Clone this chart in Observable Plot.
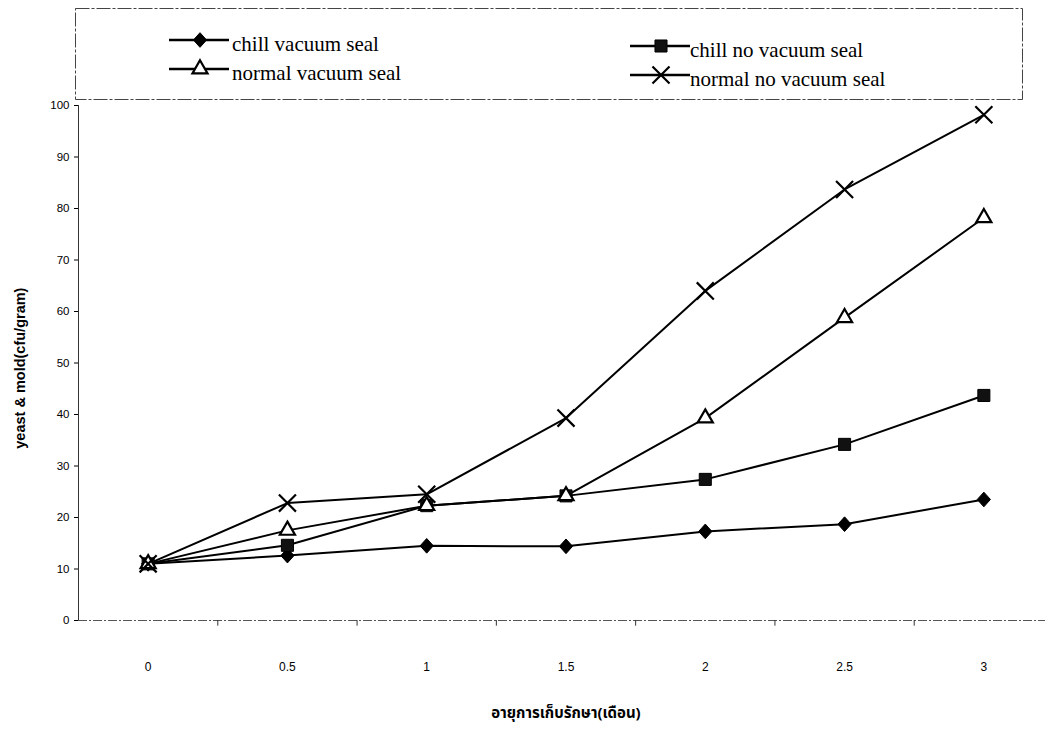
<!DOCTYPE html>
<html>
<head>
<meta charset="utf-8">
<script src="https://cdn.jsdelivr.net/npm/d3@7"></script>
<script src="https://cdn.jsdelivr.net/npm/@observablehq/plot@0.6"></script>
<style>
  html, body { margin: 0; padding: 0; background: #fff; }
  #wrap { position: relative; width: 1045px; height: 740px; overflow: hidden; }
  #legend { position: absolute; left: 0; top: 0; }
  #chart { position: absolute; left: 0; top: 0; }
</style>
</head>
<body>
<div id="wrap"><div id="chart"></div><svg id="legend" width="1045" height="110"></svg></div>
<script>
// ---- data ----
const months = [0, 0.5, 1, 1.5, 2, 2.5, 3];
const monthLabels = ["0", "0.5", "1", "1.5", "2", "2.5", "3"];
const seriesNames = ["chill vacuum seal", "chill no vacuum seal", "normal vacuum seal", "normal no vacuum seal"];
const chillVacuum = [11, 12.6, 14.5, 14.4, 17.3, 18.7, 23.5];
const chillNoVacuum = [11, 14.6, 22.3, 24.2, 27.4, 34.2, 43.7];
const normalVacuum = [11, 17.5, 22.3, 24.2, 39.3, 58.8, 78.2];
const normalNoVacuum = [11, 22.8, 24.5, 39.3, 64, 83.7, 98.2];
const yTicks = [0, 10, 20, 30, 40, 50, 60, 70, 80, 90, 100];
const xLabel = "อายุการเก็บรักษา(เดือน)";
const yLabel = "yeast & mold(cfu/gram)";

// wide rhombus symbol (like a spreadsheet diamond marker)
const rhombus = {
  draw(context, size) {
    const h = Math.sqrt(size / 1.7);
    const w = h * 0.9;
    context.moveTo(0, -h);
    context.lineTo(w, 0);
    context.lineTo(0, h);
    context.lineTo(-w, 0);
    context.closePath();
  }
};

const valuesBySeries = [chillVacuum, chillNoVacuum, normalVacuum, normalNoVacuum];
const styles = [
  {symbol: rhombus, r: 5.4, fill: "#000", stroke: "#000", strokeWidth: 1},
  {symbol: d3.symbolSquare, r: 6.8, fill: "#111", stroke: "#000", strokeWidth: 1},
  {symbol: d3.symbolTriangle, r: 5.6, fill: "#fff", stroke: "#000", strokeWidth: 2.2},
  {symbol: d3.symbolTimes, r: 7.8, fill: "none", stroke: "#000", strokeWidth: 2.2}
];
const rows = [];
valuesBySeries.forEach((vals, s) => vals.forEach((v, i) => rows.push({series: seriesNames[s], month: months[i], value: v})));
const boundaries = months.slice(0, -1).map(m => m + 0.25);

const marks = [
  Plot.ruleX([-0.25], {y1: 0, y2: 100, stroke: "#333", strokeWidth: 1}),
  Plot.ruleY([0], {x1: -0.25, x2: 3.25, stroke: "#555", strokeWidth: 1, strokeDasharray: "9,2,2,2"}),
  Plot.ruleX(boundaries, {y1: 0, y2: -1.1, stroke: "#333", strokeWidth: 1}),
  Plot.axisY({ticks: yTicks, tickSize: 4, tickPadding: 5, label: null, fontSize: 11.5,
    fontFamily: "Liberation Sans, Arial, sans-serif"}),
  Plot.axisX({ticks: months, tickFormat: d => monthLabels[months.indexOf(d)], tickSize: 0, tickPadding: 42,
    label: null, fontSize: 12, fontFamily: "Liberation Sans Narrow, Arial Narrow, Liberation Sans, sans-serif"}),
  Plot.text([xLabel], {frameAnchor: "bottom", dy: 97, x: 1.5, text: d => d, fontSize: 15, fontWeight: "bold",
    fontFamily: "Noto Sans Thai, Tahoma, sans-serif"}),
  Plot.text([yLabel], {x: -0.25, y: 49, dx: -58, rotate: -90, text: d => d, fontSize: 14.5, fontWeight: "bold",
    fontFamily: "Liberation Sans, Arial, sans-serif"})
];
seriesNames.forEach((name) => {
  marks.push(Plot.line(rows.filter(d => d.series === name), {x: "month", y: "value", stroke: "#000", strokeWidth: 2}));
});
seriesNames.forEach((name, s) => {
  const st = styles[s];
  marks.push(Plot.dot(rows.filter(d => d.series === name), {x: "month", y: "value", symbol: st.symbol,
    r: st.r, fill: st.fill, stroke: st.stroke, strokeWidth: st.strokeWidth}));
});

const chart = Plot.plot({
  width: 1045,
  height: 740,
  marginTop: 105,
  marginBottom: 120,
  marginLeft: 78,
  marginRight: 0,
  style: {overflow: "visible", background: "transparent"},
  x: {domain: [-0.25, 3.25], range: [78, 1053]},
  y: {domain: [0, 100]},
  marks
});
document.getElementById("chart").appendChild(chart);

// ---- legend (drawn above the plot area) ----
const lg = d3.select("#legend");
lg.append("rect").attr("x", 75.5).attr("y", 8.5).attr("width", 947).attr("height", 91)
  .attr("fill", "none").attr("stroke", "#444").attr("stroke-width", 1).attr("stroke-dasharray", "14,2,3,2");
const legendPos = [
  {x: 200, y: 40, tx: 232},
  {x: 661, y: 46, tx: 690},
  {x: 200, y: 69, tx: 232},
  {x: 661, y: 75, tx: 690}
];
seriesNames.forEach((name, s) => {
  const p = legendPos[s], st = styles[s];
  const g = lg.append("g");
  g.append("line").attr("x1", p.x - 31).attr("x2", p.x + 29).attr("y1", p.y).attr("y2", p.y)
    .attr("stroke", "#000").attr("stroke-width", 2.5);
  g.append("path").attr("transform", `translate(${p.x},${p.y})`)
    .attr("d", d3.symbol(st.symbol, st.r * st.r * Math.PI)())
    .attr("fill", st.fill).attr("stroke", st.stroke).attr("stroke-width", st.strokeWidth);
  g.append("text").attr("x", p.tx).attr("y", p.y + 11).text(name)
    .attr("font-family", "Liberation Serif, Times New Roman, serif").attr("font-size", 21).attr("fill", "#000");
});
</script>
</body>
</html>
